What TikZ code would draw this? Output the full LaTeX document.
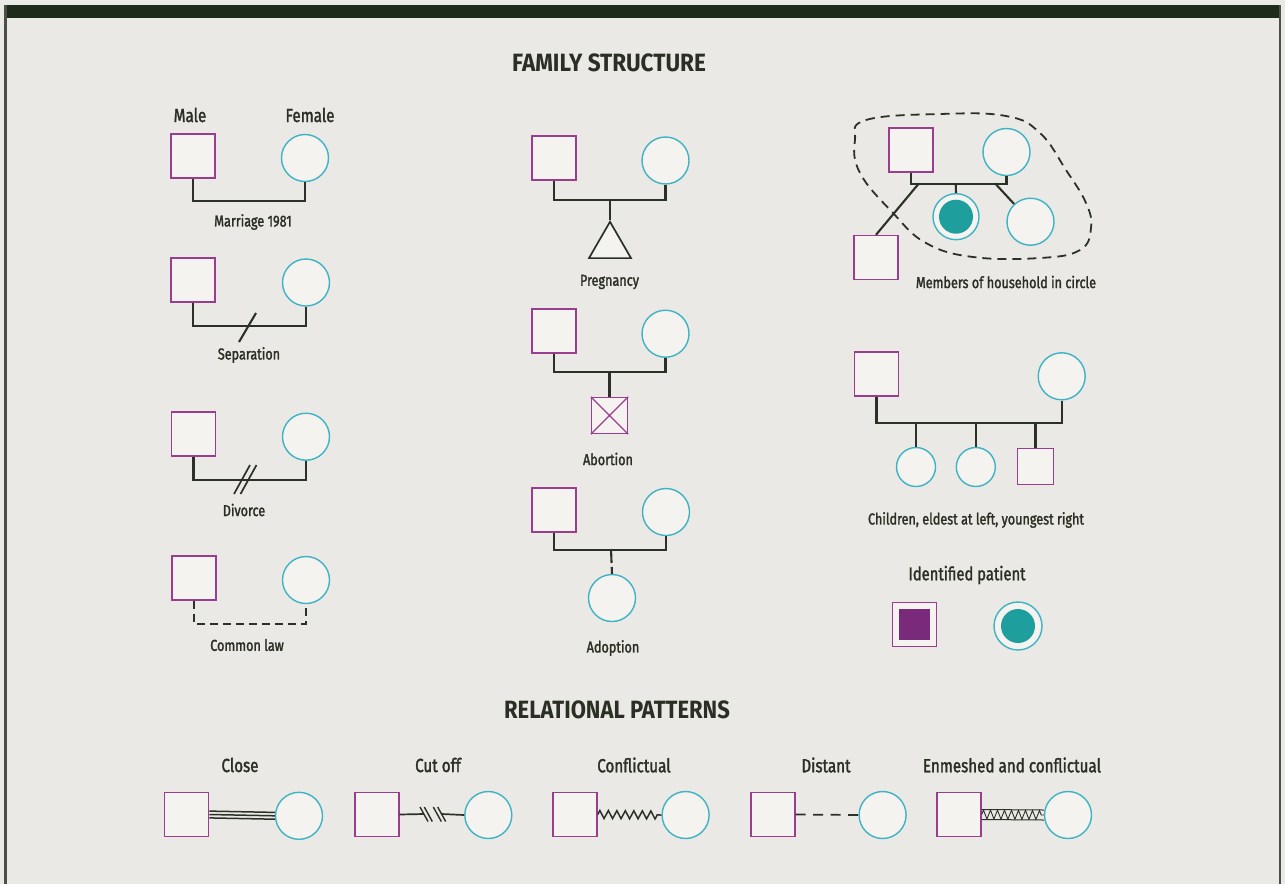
\documentclass[tikz,border=0pt]{standalone}
\usepackage{fontspec}
\setmainfont{Fira Sans}[FakeStretch=0.8]
\newfontfamily\labfont{Fira Sans}[FakeStretch=0.8,FakeBold=1.6]
\usetikzlibrary{shapes.geometric,decorations.pathmorphing,calc}
\definecolor{bgC}{HTML}{EBE9E5}
\definecolor{shapeF}{HTML}{F4F3F0}
\definecolor{maleC}{HTML}{9A3D8E}
\definecolor{femC}{HTML}{3DB3C4}
\definecolor{lineC}{HTML}{2C3128}
\definecolor{txtC}{HTML}{2A2E24}
\definecolor{patM}{HTML}{7A2A7A}
\definecolor{patF}{HTML}{1E9E9C}
\definecolor{barC}{HTML}{1F2A1A}
\definecolor{edgeC}{HTML}{4A4F48}
\tikzset{
 male/.style={rectangle, draw=maleC, fill=shapeF, line width=1.4pt, minimum size=44pt, inner sep=0pt},
 female/.style={circle, draw=femC, fill=shapeF, line width=1.4pt, minimum size=47pt, inner sep=0pt},
 smale/.style={male, minimum size=36pt},
 sfemale/.style={female, minimum size=39pt},
 link/.style={draw=lineC, line width=2.1pt},
 thinlink/.style={draw=lineC, line width=1.5pt},
 lab/.style={text=txtC, inner sep=0pt, font=\fontsize{15.8}{18}\selectfont\labfont},
 biglab/.style={text=txtC, inner sep=0pt, font=\fontsize{19}{21}\selectfont\labfont},
 head/.style={text=txtC, inner sep=0pt, font=\fontsize{25}{27}\selectfont\bfseries},
}
\begin{document}
\begin{tikzpicture}[x=1pt,y=-1pt]
\useasboundingbox (0,0) rectangle (1285,884);
\fill[bgC] (0,0) rectangle (1285,884);
% frame
\fill[barC] (5,5) rectangle (1281,17.5);
\fill[edgeC] (4,5) rectangle (6.5,884);
\fill[edgeC] (1278.5,5) rectangle (1281,884);

% headings
\node[head] (h1) at (609,63) {\addfontfeature{FakeStretch=0.9}FAMILY STRUCTURE};
\node[head] (h2) at (617,710) {\addfontfeature{FakeStretch=0.88}RELATIONAL PATTERNS};

% ---------- left column ----------
\node[biglab] (tmale) at (190,115) {Male};
\node[biglab] (tfemale) at (310,115) {Female};

\node[male] (m1) at (193,156) {};
\node[female] (f1) at (305,158) {};
\draw[link] (m1.south) -- ++(0,22) -| (f1.south);
\node[lab] (l1) at (253,222) {Marriage 1981};

\node[male] (m2) at (193,280) {};
\node[female] (f2) at (306,282.5) {};
\draw[link] (m2.south) -- ++(0,23) -| (f2.south);
\coordinate (s2a) at (256,313);
\coordinate (s2b) at (239,342);
\draw[link] (s2a) -- (s2b);
\node[lab] (l2) at (249,355) {Separation};

\node[male] (m3) at (193.5,434) {};
\node[female] (f3) at (306,436.7) {};
\draw[link] (m3.south) -- ++(0,23) -| (f3.south);
\coordinate (d3a) at (250,465); \coordinate (d3b) at (234,494);
\coordinate (d3c) at (256.5,465); \coordinate (d3d) at (240.5,494);
\draw[link,line width=1.7pt] (d3a) -- (d3b);
\draw[link,line width=1.7pt] (d3c) -- (d3d);
\node[lab] (l3) at (244,510) {Divorce};

\node[male] (m4) at (194,578) {};
\node[female] (f4) at (306,580) {};
\draw[link, dash pattern=on 8pt off 5pt] (m4.south) -- ++(0,23) -| (f4.south);
\node[lab] (l4) at (247,645) {Common law};

% ---------- middle column ----------
\node[male] (m5) at (554,158) {};
\node[female] (f5) at (665.5,160.5) {};
\draw[link] (m5.south) -- ++(0,19) -| (f5.south);
\coordinate (p5) at (610,199);
\node[regular polygon, regular polygon sides=3, draw=lineC, fill=shapeF, line width=1.7pt, minimum size=48.5pt, inner sep=0pt] (t5) at (610,246) {};
\draw[link] (p5) -- (t5.corner 1);
\node[lab] (l5) at (609.5,282) {Pregnancy};

\node[male] (m6) at (554,331) {};
\node[female] (f6) at (665.5,333.7) {};
\draw[link] (m6.south) -- ++(0,18) -| (f6.south);
\coordinate (p6) at (609.5,371);
\node[smale] (a6) at (609.5,415.5) {};
\draw[maleC, line width=1.2pt] (a6.north west) -- (a6.south east) (a6.north east) -- (a6.south west);
\draw[link] (p6) -- (a6.north);
\node[lab] (l6) at (608,459) {Abortion};

\node[male] (m7) at (554,510) {};
\node[female] (f7) at (666,512) {};
\draw[link] (m7.south) -- ++(0,17) -| (f7.south);
\coordinate (p7) at (611,549);
\node[female] (c7) at (612,598) {};
\draw[link, dash pattern=on 14pt off 4pt] (p7) -- (c7.north);
\node[lab] (l7) at (613,648) {Adoption};

% ---------- right column ----------
\draw[lineC, line width=1.8pt, dash pattern=on 9pt off 6pt] plot[smooth cycle, tension=0.7] coordinates {
 (855,140) (866,120) (940,114) (1006,116) (1040,133) (1066,170) (1086,203)
 (1091,228) (1080,250) (1040,258) (973,257) (926,243) (893,213) (860,173)};

\node[male] (m8) at (911,150) {};
\node[female] (f8) at (1006.5,152) {};
\draw[link] (m8.south) -- ++(0,11) -| (f8.south);
\node[female, minimum size=46pt] (c8a) at (956,216.7) {};
\node[circle, fill=patF, minimum size=34pt, inner sep=0pt] (c8ai) at (c8a) {};
\node[female] (c8b) at (1030.5,221.7) {};
\node[male] (m8b) at (876,257.5) {};
\coordinate (p8a) at (955.7,183.3);
\coordinate (p8b) at (995,183.3);
\coordinate (p8c) at (919,183.3);
\draw[link] (p8a) -- (c8a.north);
\draw[link] (p8b) -- (c8b);
\draw[link] (p8c) -- (m8b.north);
\node[lab] (l8) at (1006,282) {Members of household in circle};

\node[male] (m9) at (876.5,374) {};
\node[female] (f9) at (1061.7,376.3) {};
\draw[link] (m9.south) -- ++(0,26.7) -| (f9.south);
\node[sfemale] (c9a) at (916,467) {};
\node[sfemale] (c9b) at (975.8,467) {};
\node[smale] (c9c) at (1035.5,466.7) {};
\coordinate (q9a) at (916,422.7);
\coordinate (q9b) at (975.8,422.7);
\coordinate (q9c) at (1035.5,422.7);
\draw[link] (q9a) -- (c9a.north);
\draw[link] (q9b) -- (c9b.north);
\draw[link] (q9c) -- (c9c.north);
\node[lab] (l9) at (976,520) {Children, eldest at left, youngest right};

\node[biglab, font=\fontsize{18.5}{20}\selectfont\labfont] (l10) at (967,575) {Identified patient};
\node[male] (ip1) at (914.5,624.5) {};
\node[rectangle, fill=patM, minimum size=31pt, inner sep=0pt] (ip1i) at (ip1) {};
\node[female, minimum size=48pt] (ip2) at (1018,626) {};
\node[circle, fill=patF, minimum size=34pt, inner sep=0pt] (ip2i) at (ip2) {};

% ---------- relational patterns ----------
\node[biglab] (rl1) at (240,765) {Close};
\node[biglab] (rl2) at (438,765) {Cut off};
\node[biglab] (rl3) at (634,765) {Conflictual};
\node[biglab] (rl4) at (826,765) {Distant};
\node[biglab] (rl5) at (1012,765) {Enmeshed and conflictual};

\node[male] (r1m) at (186.7,814.5) {};
\node[female] (r1f) at (299,815.8) {};
\draw[thinlink] ($(r1m.east)+(0,-3.4)$) -- ($(r1f.west)+(0,-3.4)$);
\draw[thinlink] (r1m.east) -- (r1f.west);
\draw[thinlink] ($(r1m.east)+(0,3.4)$) -- ($(r1f.west)+(0,3.4)$);

\node[male] (r2m) at (376.8,814.5) {};
\node[female] (r2f) at (488.3,815) {};
\coordinate (cutA) at (424,814);
\coordinate (cutB) at (441.7,814);
\draw[link,line width=1.7pt] (r2m.east) -- (cutA);
\draw[link,line width=1.7pt] (cutB) -- (r2f.west);
\foreach \xx in {424,428.3,437.3,441.7} {
 \draw[link,line width=1.4pt] (\xx-4,807) -- (\xx+4,821.5);
}

\node[male] (r3m) at (575,814.5) {};
\node[female] (r3f) at (685.6,815) {};
\draw[thinlink, decorate, decoration={zigzag, segment length=8.5pt, amplitude=4pt}] (r3m.east) -- (r3f.west);

\node[male] (r4m) at (773,814.5) {};
\node[female] (r4f) at (882.6,815) {};
\draw[link,line width=1.7pt, dash pattern=on 10pt off 7.5pt] (r4m.east) -- (r4f.west);

\node[male] (r5m) at (959,814.5) {};
\node[female] (r5f) at (1068,815) {};
\draw[lineC, line width=1pt] ($(r5m.east)+(0,-5)$) -- ($(r5f.west)+(0,-5)$);
\draw[lineC, line width=1pt] ($(r5m.east)+(0,5)$) -- ($(r5f.west)+(0,5)$);
\draw[lineC, line width=0.9pt, decorate, decoration={zigzag, segment length=7pt, amplitude=4.5pt}] (r5m.east) -- (r5f.west);
\end{tikzpicture}
\end{document}
